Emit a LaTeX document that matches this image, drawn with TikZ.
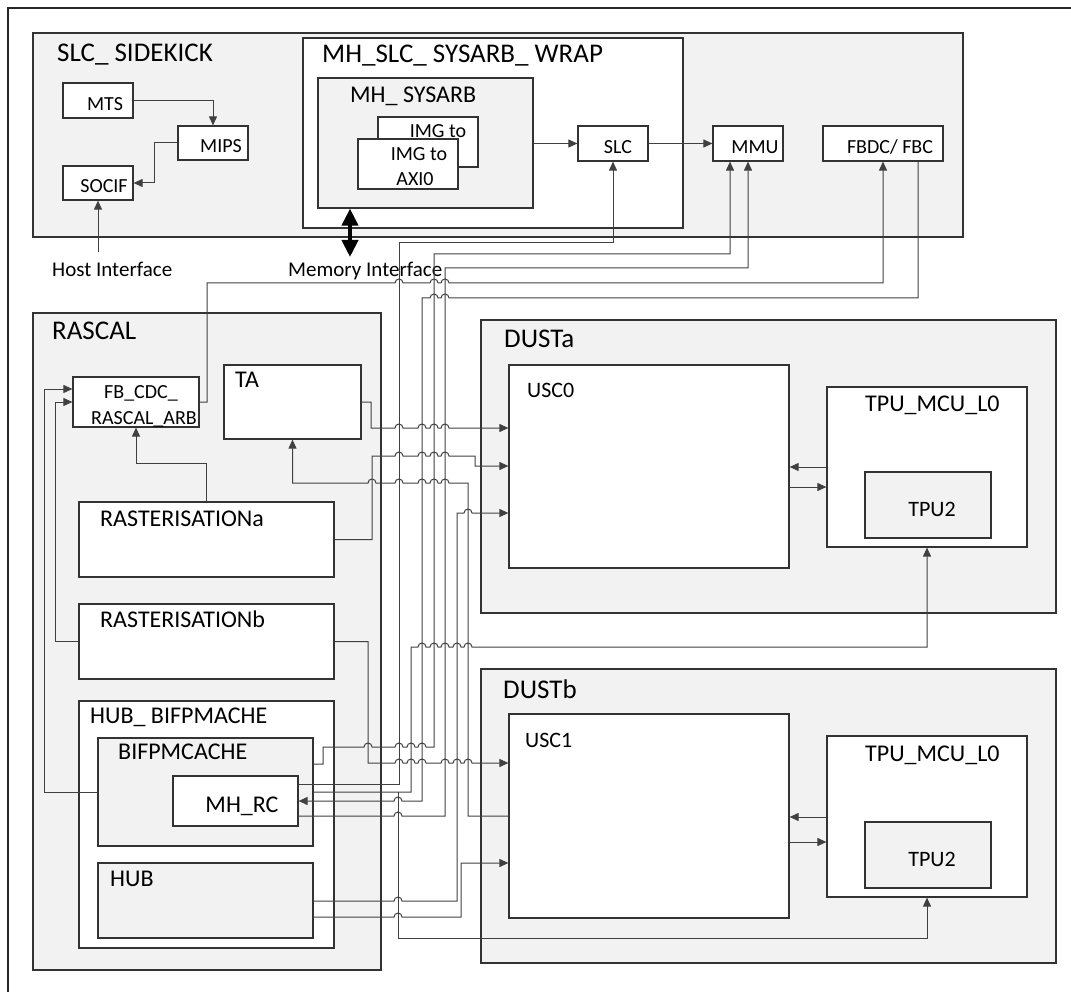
\documentclass[tikz,border=0pt]{standalone}
\usepackage{fontspec}
\setmainfont{Carlito}
\usetikzlibrary{arrows.meta,fit}
\newcommand\fsz[2]{\fontsize{#1}{#2}\selectfont}
\tikzset{
	cont/.style={draw=black!80, line width=1.2pt, fill=gray!10, inner sep=0pt},
	wbox/.style={cont, fill=white},
	lbl/.style={anchor=base, inner sep=0pt, font=\fsz{20}{25}},
	ttl/.style={anchor=base west, inner sep=0pt, font=\fsz{24}{28}},
	bigttl/.style={ttl, font=\fsz{27}{32}},
	outerline/.style={draw=black!85, line width=1.3pt},
	wire/.style={draw=black!75, line width=1pt},
	warr/.style={wire, -{Triangle[length=9pt,width=8pt]}},
	memarr/.style={draw=black, line width=4pt, {Triangle[length=17pt,width=16pt]}-{Triangle[length=17pt,width=16pt]}}
}
% line hops: x of the crossing, y of the wire
\newcommand\hopr[2]{-- ({#1-4},#2) arc[start angle=180,end angle=360,radius=4]}
\newcommand\hopl[2]{-- ({#1+4},#2) arc[start angle=0,end angle=-180,radius=4]}
\begin{document}
\begin{tikzpicture}[x=1pt, y=-1pt]
	\useasboundingbox (0,0) rectangle (1071,992);
	\draw[outerline] (8,1000) -- (8,8) -- (1080,8);

	% SLC_ SIDEKICK
	\node[cont, fit={(33,33)(963,237)}] (sidekick) {};
	\node[bigttl] (sidekickT) at (57,62) {SLC\_ SIDEKICK};
	\node[wbox, fit={(63,83)(133,118)}] (mts) {};
	\node[lbl] (mtsT) at (105,111) {MTS};
	\node[wbox, fit={(178,126)(248,160)}] (mips) {};
	\node[lbl] (mipsT) at (221,153) {MIPS};
	\node[wbox, fit={(63,166)(133,200)}] (socif) {};
	\node[lbl] (socifT) at (104,193) {SOCIF};
	\node[wbox, fit={(303,38)(683,228)}] (wrap) {};
	\node[bigttl] (wrapT) at (322,63) {MH\_SLC\_ SYSARB\_ WRAP};
	\node[cont, fit={(318,78)(533,208)}] (sysarb) {};
	\node[ttl] (sysarbT) at (350,103) {MH\_ SYSARB};
	\node[wbox, fit={(378,117)(478,167)}] (imgb) {};
	\node[lbl] (imgbT) at (438,138) {IMG to};
	\node[wbox, fit={(358,139)(458,189)}] (imga) {};
	\node[lbl] (imgaT) at (419,161) {IMG to};
	\node[lbl] (imgaT2) at (415,186) {AXI0};
	\node[wbox, fit={(578,126)(648,161)}] (slc) {};
	\node[lbl] (slcT) at (618,154) {SLC};
	\node[wbox, fit={(713,126)(783,161)}] (mmu) {};
	\node[lbl] (mmuT) at (755,154) {MMU};
	\node[wbox, fit={(823,126)(943,161)}] (fbdc) {};
	\node[lbl] (fbdcT) at (890,154) {FBDC/ FBC};
	\node[ttl, font=\fsz{21}{25}] (hostT) at (52,277) {Host Interface};
	\node[ttl, font=\fsz{21}{25}] (memT) at (288,277) {Memory Interface};
	\coordinate (hostin) at (98,252);
	\coordinate (memin) at (350,257);
	\coordinate (mmua) at ([xshift=-18pt]mmu.south);
	\coordinate (fbout) at ([xshift=35pt]fbdc.south);

	% RASCAL
	\node[cont, fit={(33,313)(381,970)}] (rascal) {};
	\node[bigttl] (rascalT) at (52,340) {RASCAL};
	\node[wbox, fit={(73,377)(199,427)}] (fbcdc) {};
	\node[lbl] (fbcdcT) at (141,398) {FB\_CDC\_};
	\node[lbl] (fbcdcT2) at (144,424) {RASCAL\_ARB};
	\node[wbox, fit={(224,365)(361,439)}] (ta) {};
	\node[ttl] (taT) at (235,387) {TA};
	\node[wbox, fit={(79,502)(334,577)}] (rasta) {};
	\node[ttl] (rastaT) at (100,526) {RASTERISATIONa};
	\node[wbox, fit={(79,604)(334,679)}] (rastb) {};
	\node[ttl] (rastbT) at (100,627) {RASTERISATIONb};
	\node[wbox, fit={(79,701)(334,948)}] (hubbif) {};
	\node[ttl] (hubbifT) at (90,723) {HUB\_ BIFPMACHE};
	\node[cont, fit={(98,738)(313,846)}] (bifp) {};
	\node[ttl] (bifpT) at (118,759) {BIFPMCACHE};
	\node[wbox, fit={(173,776)(298,826)}] (mhrc) {};
	\node[lbl, font=\fsz{24}{28}] (mhrcT) at (242,812) {MH\_RC};
	\node[cont, fit={(98,863)(313,938)}] (hub) {};
	\node[ttl] (hubT) at (110,886) {HUB};

	% DUSTa
	\node[cont, fit={(481,320)(1056,613)}] (dusta) {};
	\node[bigttl] (dustaT) at (504,348) {DUSTa};
	\node[wbox, fit={(509,365)(789,568)}] (usc0) {};
	\node[ttl, font=\fsz{22}{26}] (usc0T) at (527,397) {USC0};
	\node[wbox, fit={(827,387)(1027,547)}] (tpuma) {};
	\node[ttl] (tpumaT) at (865,411) {TPU\_MCU\_L0};
	\node[cont, fit={(865,472)(991,538)}] (tpua) {};
	\node[lbl, font=\fsz{22}{26}] (tpuaT) at (932,516) {TPU2};

	% DUSTb
	\node[cont, fit={(481,669)(1056,963)}] (dustb) {};
	\node[bigttl] (dustbT) at (503,698) {DUSTb};
	\node[wbox, fit={(509,714)(789,918)}] (usc1) {};
	\node[ttl, font=\fsz{22}{26}] (usc1T) at (525,747) {USC1};
	\node[wbox, fit={(827,736)(1027,897)}] (tpumb) {};
	\node[ttl] (tpumbT) at (865,761) {TPU\_MCU\_L0};
	\node[cont, fit={(865,822)(991,888)}] (tpub) {};
	\node[lbl, font=\fsz{22}{26}] (tpubT) at (932,866) {TPU2};
	\coordinate (br) at (398,792);

	% sidekick wires
	\draw[warr] (mts.east) -| (mips.north);
	\draw[warr] (mips.west) -| (154,183) -- (socif.east);
	\draw[warr] (hostin) -- (socif.south);
	\draw[memarr] (memin) -- (memin |- sysarb.south);
	\draw[warr] (sysarb.east |- slc.west) -- (slc.west);
	\draw[warr] (slc.east) -- (mmu.west);

	% rascal wires
	\draw[warr] (rasta.north) -- ++(0,-38) -| (fbcdc.south);
	\draw[warr] (rastb.west) -| (55,402) -- (fbcdc.west);
	\draw[warr] (bifp.west) -| (44,389) -- (fbcdc.west |- 0,389);
	\draw[warr] (fbcdc.east) -| (207,283) \hopr{399}{283} \hopr{434}{283} \hopr{445}{283} -| (fbdc.south);
	\draw[warr] (fbout) -- (fbout |- 0,298) \hopl{445}{298} \hopl{434}{298} -- (422,298) -- (422,801) \hopl{398}{801} -- (mhrc.east);
	\draw[warr] (mhrc.east |- 0,784) -- (399,784) -- (399,243) -| (slc.south);
	\draw[warr] (mhrc.east |- 0,816) \hopr{398}{816} -- (445,816) -- (445,268) -| (mmu.south);
	\draw[warr] (bifp.east |- 0,764) -| (323,747) \hopr{368}{747} \hopr{399}{747} \hopr{411}{747} \hopr{422}{747} -- (434,747) -- (434,254) -| (mmua);

	% into the DUSTs
	\draw[warr] (ta.east) -| (371,428) \hopr{399}{428} \hopr{422}{428} \hopr{434}{428} \hopr{445}{428} -- (usc0.west |- 0,428);
	\draw[warr] (rasta.east) -| (372,456) \hopr{399}{456} \hopr{422}{456} \hopr{434}{456} \hopr{445}{456} -- (475,456) |- (usc0.west |- 0,466);
	\draw[warr] (usc1.west) -| (468,483) \hopl{445}{483} \hopl{434}{483} \hopl{422}{483} \hopl{399}{483} \hopl{372}{483} -| (ta.south);
	\draw[warr] (hub.east |- 0,901) \hopr{398}{901} -- (457,901) -- (457,513) \hopr{468}{513} -- (usc0.west |- 0,513);
	\draw[warr] (hub.east |- 0,917) \hopr{398}{917} -- (461,917) |- (usc1.west |- 0,863);
	\draw[warr] (rastb.east) -| (368,763) \hopr{399}{763} \hopr{411}{763} \hopr{422}{763} \hopr{445}{763} \hopr{457}{763} \hopr{468}{763} -- (usc1.west |- 0,763);
	\draw[warr] (bifp.east) -- (411,792) -- (411,647) \hopr{422}{647} \hopr{434}{647} \hopr{445}{647} \hopr{457}{647} \hopr{468}{647} -| (tpuma.south);
	\draw[warr] (br) -- (398,938) -| (tpumb.south);

	% USC <-> TPU_MCU
	\draw[warr] (tpuma.west |- 0,467) -- (usc0.east |- 0,467);
	\draw[warr] (usc0.east |- 0,487) -- (tpuma.west |- 0,487);
	\draw[warr] (tpumb.west |- 0,817) -- (usc1.east |- 0,817);
	\draw[warr] (usc1.east |- 0,842) -- (tpumb.west |- 0,842);
\end{tikzpicture}
\end{document}
